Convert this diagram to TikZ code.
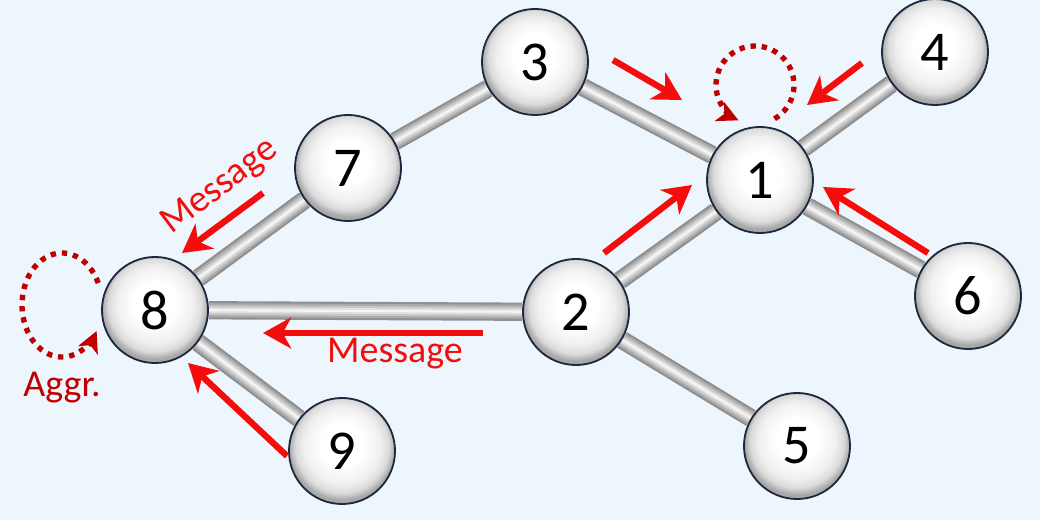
\documentclass[tikz,border=0pt]{standalone}
\usepackage{fontspec}
\setmainfont{Carlito}
\usetikzlibrary{arrows.meta,backgrounds}
\definecolor{bgblue}{RGB}{238,246,253}
\definecolor{msgred}{RGB}{245,12,12}
\definecolor{aggred}{RGB}{192,0,0}
\definecolor{rimblue}{RGB}{30,40,62}
\pgfdeclareradialshading{sphere}{\pgfpoint{0bp}{4bp}}{%
  color(0bp)=(white); color(10bp)=(white); color(18bp)=(black!6);
  color(22bp)=(black!14); color(25bp)=(black!34); color(50bp)=(black!34)}

\begin{document}
\begin{tikzpicture}[x=0.025cm,y=0.025cm]

    \tikzset{
      vert/.style={
        circle,
        draw=rimblue,
        line width=1.3pt,
        shade,
        shading=sphere,
        minimum size=2.65cm,
        inner sep=0pt,
        font=\fontsize{40}{40}\selectfont,
      },
      tube/.style={
        draw=black!44,
        line width=13pt,
        postaction={draw=black!33, line width=10pt},
        postaction={draw=black!22, line width=7pt},
        postaction={draw=black!12, line width=4pt},
        postaction={draw=black!4, line width=1.5pt},
      },
      msg/.style={
        draw=msgred,
        line width=4.5pt,
        -{Stealth[length=20pt,width=22pt,inset=6pt]},
      },
      selfloop/.style={
        draw=aggred,
        line width=3.8pt,
        dash pattern=on 3.8pt off 4.2pt,
        -{Stealth[length=15pt,width=15pt,inset=4pt]},
      },
      lbl/.style={font=\fontsize{27}{27}\selectfont},
    }
    \useasboundingbox (0,0) rectangle (1040,520);

    % the graph
	\node[vert] (n1) at (760,340) {1};
	\node[vert] (n2) at (576,208) {2};
	\node[vert] (n3) at (535,458) {3};
	\node[vert] (n4) at (935,468) {4};
	\node[vert] (n5) at (797,74) {5};
	\node[vert] (n6) at (968,224) {6};
	\node[vert] (n7) at (348,352) {7};
	\node[vert] (n8) at (155,210) {8};
	\node[vert] (n9) at (342,69) {9};

    \begin{scope}[on background layer]
	\fill[bgblue] (0,0) rectangle (1040,520);
	\draw[tube] (n3) -- (n7);
	\draw[tube] (n7) -- (n8);
	\draw[tube] (n8) -- (n2);
	\draw[tube] (n8) -- (n9);
	\draw[tube] (n2) -- (n5);
	\draw[tube] (n2) -- (n1);
	\draw[tube] (n3) -- (n1);
	\draw[tube] (n1) -- (n4);
	\draw[tube] (n1) -- (n6);
    \end{scope}

    % messages
	\coordinate (t31) at (613,460); \coordinate (h31) at (682,420);
	\coordinate (t41) at (862,457); \coordinate (h41) at (807,415);
	\coordinate (t61) at (928,267); \coordinate (h61) at (823,333);
	\coordinate (t21) at (604,267); \coordinate (h21) at (692,335);
	\coordinate (t78) at (263,327); \coordinate (h78) at (182,267);
	\coordinate (t28) at (483,187); \coordinate (h28) at (263,187);
	\coordinate (t98) at (287,64);  \coordinate (h98) at (188,157);
	\draw[msg] (t31) -- (h31);
	\draw[msg] (t41) -- (h41);
	\draw[msg] (t61) -- (h61);
	\draw[msg] (t21) -- (h21);
	\draw[msg] (t78) -- (h78);
	\draw[msg] (t28) -- (h28);
	\draw[msg] (t98) -- (h98);
	\node[lbl, text=msgred, rotate=37] (m78) at (220,333) {Message};
	\node[lbl, text=msgred, anchor=base] (m28) at (395,157) {Message};

    % aggregation
	\coordinate (c1) at (755,435);
	\coordinate (c8) at (62,215);
	\draw[selfloop] ([shift={(-60:39)}]c1) arc[start angle=-60, end angle=245, radius=39];
	\draw[selfloop] ([shift={(25:40 and 52)}]c8) arc[start angle=25, end angle=330, x radius=40, y radius=52];
	\node[lbl, text=aggred, anchor=base] (aggr) at (62,123) {Aggr.};

\end{tikzpicture}
\end{document}
